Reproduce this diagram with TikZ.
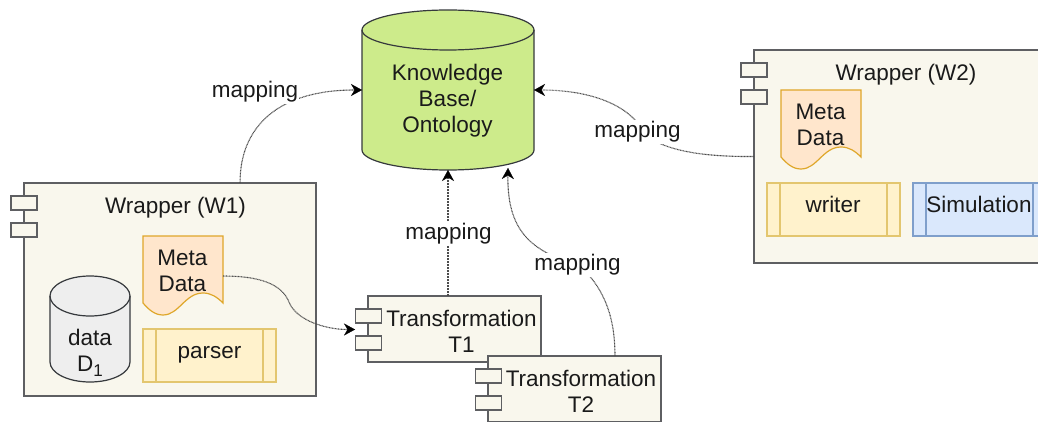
\documentclass[tikz,border=0pt]{standalone}
\usepackage{fontspec}
\setmainfont{Liberation Sans}
\usetikzlibrary{arrows.meta,calc}
\definecolor{ink}{HTML}{1A1A1A}
\definecolor{edge}{HTML}{5E5F62}
\definecolor{boxfill}{HTML}{F9F7ED}
\definecolor{dark}{HTML}{36393D}
\definecolor{KBfill}{HTML}{CDEB8B}
\definecolor{DATAfill}{HTML}{EEEEEE}
\definecolor{docline}{HTML}{DFA72A}
\definecolor{docfill}{HTML}{FFE6CC}
\definecolor{yline}{HTML}{E3C66F}
\definecolor{yfill}{HTML}{FFF2CC}
\definecolor{bline}{HTML}{7F9FCB}
\definecolor{bfill}{HTML}{DAE8FC}
\tikzset{
  box/.style={draw=edge,line width=1.2pt,fill=boxfill,inner sep=0pt,outer sep=0pt},
  portbox/.style={box,minimum width=26pt,minimum height=14pt},
  txt/.style={text=ink,font=\fontsize{22.5}{26}\selectfont,align=center,inner sep=0pt,outer sep=0pt},
  lbl/.style={txt,fill=white,inner xsep=1pt,inner ysep=2pt},
  anchorbox/.style={inner sep=0pt,outer sep=0pt},
  link/.style={draw=black!70,line width=1.1pt,dash pattern=on .9pt off .6pt,
    -{Stealth[length=11pt,width=12pt,inset=3.5pt,black,line width=.2pt]}},
  proc/.style={line width=1.2pt,inner sep=0pt,outer sep=0pt},
}
\newcommand{\cylshape}[7]{%
  % #1 left #2 right #3 top-ellipse centre y #4 bottom-side y #5 ry #6 fill #7 stroke
  \pgfmathsetmacro{\cc}{(#1+#2)/2}\pgfmathsetmacro{\rx}{(#2-#1)/2}
  \pgfmathsetmacro{\kx}{0.552*\rx}\pgfmathsetmacro{\ky}{0.552*#5}
  \draw[line width=1.2pt,draw=#7,fill=#6]
    (#1,#3) -- (#1,#4)
    .. controls (#1,#4+\ky) and (\cc-\kx,#4+#5) .. (\cc,#4+#5)
    .. controls (\cc+\kx,#4+#5) and (#2,#4+\ky) .. (#2,#4)
    -- (#2,#3)
    .. controls (#2,#3-\ky) and (\cc+\kx,#3-#5) .. (\cc,#3-#5)
    .. controls (\cc-\kx,#3-#5) and (#1,#3-\ky) .. (#1,#3) -- cycle;
  \draw[line width=1.2pt,draw=#7]
    (#1,#3)
    .. controls (#1,#3+\ky) and (\cc-\kx,#3+#5) .. (\cc,#3+#5)
    .. controls (\cc+\kx,#3+#5) and (#2,#3+\ky) .. (#2,#3);
}
\newcommand{\docshapeat}[2]{%
  % #1 left x, #2 top y; size 80 x 79
  \begin{scope}[shift={(#1,#2)}]
  \draw[draw=docline,line width=1.2pt,fill=docfill]
    (0,0) -- (80,0) -- (80,67)
    .. controls (74,61) and (68,57) .. (60,57)
    .. controls (42,57) and (36,79) .. (20,79)
    .. controls (12,79) and (6,74) .. (0,67) -- cycle;
  \end{scope}
}
\begin{document}
\begin{tikzpicture}[x=1pt,y=-1pt]
\useasboundingbox (0,0) rectangle (1038,422);
\clip (0,0) rectangle (1038,422);
\fill[white] (0,0) rectangle (1038,422);

% knowledge base
\cylshape{362}{534}{30}{150}{20}{KBfill}{dark}
\node[anchorbox,minimum width=172pt,minimum height=160pt] (kb) at (448,90) {};
\coordinate (kbb) at (508,168);
\node[txt] (kbt) at (447.5,100.5) {Knowledge\\[0pt]Base/\\[0pt]Ontology};

% wrapper W1
\node[box,minimum width=292pt,minimum height=213pt] (w1) at (170,289.5) {};
\node[portbox] (w1p1) at (24,203) {};
\node[portbox] (w1p2) at (24,230) {};
\node[txt] (w1t) at (175.5,207.5) {Wrapper (W1)};
\coordinate (w1out) at (240,183);
\cylshape{50}{130}{296}{362}{20}{DATAfill}{dark}
\node[anchorbox,minimum width=80pt,minimum height=106pt] (d1) at (90,329) {};
\node[txt] (d1t) at (90,353) {data\\[0pt]D\raisebox{-5pt}{\fontsize{17}{17}\selectfont 1}};
\docshapeat{143}{236}
\node[anchorbox,minimum width=80pt,minimum height=79pt] (m1) at (183,276) {};
\node[txt] (m1t) at (182.5,270.5) {Meta\\[0pt]Data};
\node[proc,draw=yline,fill=yfill,minimum width=133pt,minimum height=53pt] (pa) at (209.5,355.5) {};
\draw[proc,draw=yline] ($(pa.north west)+(13,0)$) -- ($(pa.south west)+(13,0)$);
\draw[proc,draw=yline] ($(pa.north east)+(-13,0)$) -- ($(pa.south east)+(-13,0)$);
\node[txt] (pat) at (209.5,355) {parser};

% transformations
\node[box,minimum width=173pt,minimum height=66pt] (t1) at (454.5,329) {};
\node[portbox] (t1p1) at (368.5,316) {};
\node[portbox] (t1p2) at (368.5,343) {};
\coordinate (t1in) at (355,329.5);
\coordinate (t1out) at (448,296);
\node[txt] (t1t) at (461.5,331) {Transformation\\[0pt]T1};
\node[box,minimum width=173pt,minimum height=66pt] (t2) at (574.5,389) {};
\node[portbox] (t2p1) at (488.5,376) {};
\node[portbox] (t2p2) at (488.5,403) {};
\coordinate (t2out) at (615,356);
\node[txt] (t2t) at (581,391) {Transformation\\[0pt]T2};

% wrapper W2
\node[box,minimum width=320pt,minimum height=213pt] (w2) at (914,156.5) {};
\node[portbox] (w2p1) at (754,70) {};
\node[portbox] (w2p2) at (754,97) {};
\node[txt] (w2t) at (906,75) {Wrapper (W2)};
\docshapeat{781}{90}
\node[anchorbox,minimum width=80pt,minimum height=79pt] (m2) at (821,130) {};
\node[txt] (m2t) at (820.5,124.5) {Meta\\[0pt]Data};
\node[proc,draw=yline,fill=yfill,minimum width=133pt,minimum height=53pt] (wr) at (833.5,209.5) {};
\draw[proc,draw=yline] ($(wr.north west)+(13,0)$) -- ($(wr.south west)+(13,0)$);
\draw[proc,draw=yline] ($(wr.north east)+(-13,0)$) -- ($(wr.south east)+(-13,0)$);
\node[txt] (wrt) at (833,204) {writer};
\node[proc,draw=bline,fill=bfill,minimum width=133pt,minimum height=53pt] (si) at (979.5,209.5) {};
\draw[proc,draw=bline] ($(si.north west)+(13,0)$) -- ($(si.south west)+(13,0)$);
\draw[proc,draw=bline] ($(si.north east)+(-13,0)$) -- ($(si.south east)+(-13,0)$);
\node[txt] (sit) at (979,204) {Simulation};

% connectors
\draw[link] (w1out) .. controls (240,125) and (280,90) .. (kb.west);
\draw[link] (m1.east) .. controls (262,276) and (282,285) .. (289,302)
   .. controls (296,320) and (325,329.5) .. (t1in);
\draw[link] (t1out) -- (kb.south);
\draw[link] (t2out) .. controls (615,320) and (606,290) .. (580,266)
   .. controls (535,252) and (507,235) .. (kbb);
\draw[link] (w2.west) .. controls (700,157) and (665,150) .. (645,135)
   .. controls (632,105) and (590,90) .. (kb.east);

% labels
\node[lbl] (l1) at (255,92) {mapping};
\node[lbl] (l2) at (448.5,234) {mapping};
\node[lbl] (l3) at (577.5,265) {mapping};
\node[lbl] (l4) at (637.5,132) {mapping};
\end{tikzpicture}
\end{document}
